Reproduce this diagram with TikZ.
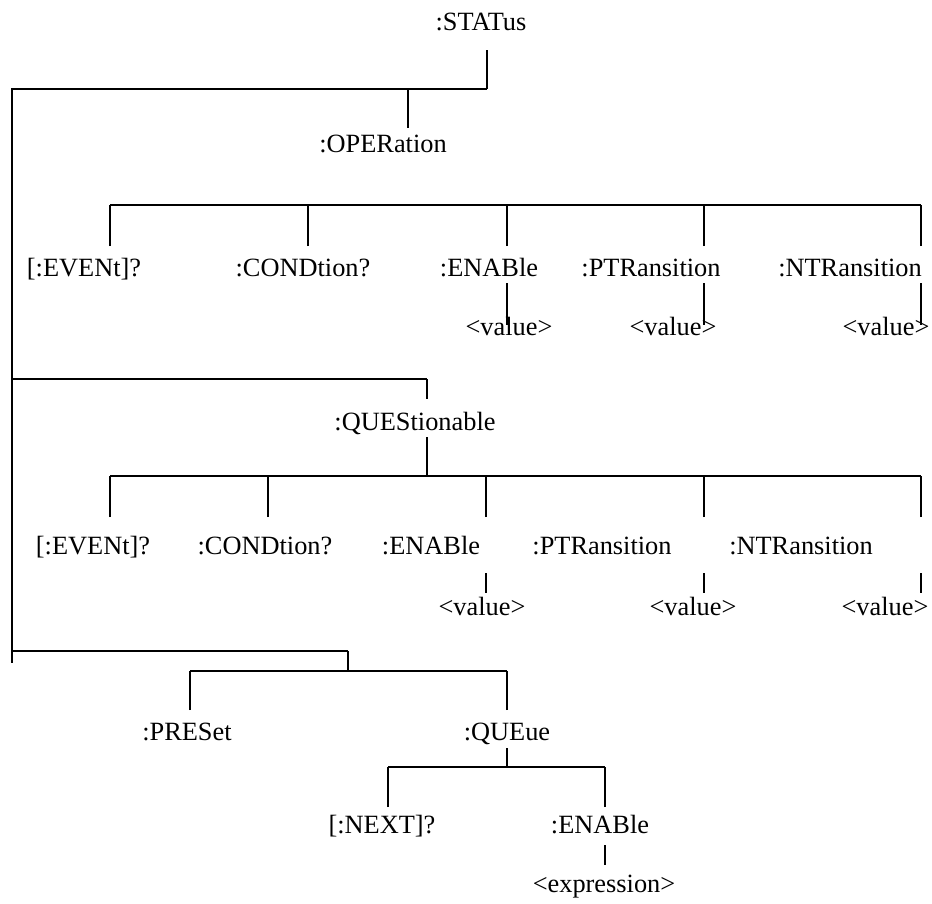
\documentclass[tikz,border=0pt]{standalone}
\usepackage{fontspec}
\setmainfont{Liberation Serif}
\usepackage{tikz}
\usetikzlibrary{positioning,calc}

\begin{document}
\begin{tikzpicture}[
    x=0.02cm, y=-0.02cm,
    cmd/.style={inner sep=0pt, anchor=base, font=\fontsize{15}{18}\selectfont},
    bar/.style={draw=black, line width=1.1pt},
    tick/.style={draw=black, line width=0.75pt}
]
\useasboundingbox (0,0) rectangle (932,903);

% Root and spine
\node[cmd] (status) at (481,30) {:STATus};
\coordinate (st-a) at (487,50);
\coordinate (st-b) at (487,89);
\coordinate (spine-top) at (12,89);
\coordinate (spine-end) at (12,663);
\draw[tick] (st-a) -- (st-b);
\draw[bar] (st-b) -- (spine-top) -- (spine-end);

% OPERation
\coordinate (op-a) at (408,89);
\coordinate (op-b) at (408,128);
\draw[tick] (op-a) -- (op-b);
\node[cmd] (oper) at (383,152) {:OPERation};

% OPERation bar and children
\coordinate (ob-l) at (110,205);
\coordinate (ob-r) at (921,205);
\draw[bar] (ob-l) -- (ob-r);
\node[cmd] (o-ev) at (84,276) {[:EVENt]?};
\node[cmd] (o-cd) at (303,276) {:CONDtion?};
\node[cmd] (o-en) at (489,276) {:ENABle};
\node[cmd] (o-pt) at (651,276) {:PTRansition};
\node[cmd] (o-nt) at (850,276) {:NTRansition};
\foreach \n/\x in {o-ev/110, o-cd/308, o-en/507, o-pt/704, o-nt/921} {
    \coordinate (\n-t) at (\x,246);
    \draw[tick] (\n-t) -- (\n-t |- ob-l);
}

% OPERation values
\node[cmd] (o-en-v) at (509,335) {<value>};
\node[cmd] (o-pt-v) at (673,335) {<value>};
\node[cmd] (o-nt-v) at (886,335) {<value>};
\foreach \n/\x in {o-en/507, o-pt/704, o-nt/921} {
    \coordinate (\n-s) at (\x,283);
    \coordinate (\n-e) at (\x,325);
    \draw[tick] (\n-s) -- (\n-e);
}

% QUEStionable
\coordinate (qu-a) at (12,379);
\coordinate (qu-b) at (427,379);
\coordinate (qu-c) at (427,399);
\draw[bar] (qu-a) -- (qu-b);
\draw[tick] (qu-b) -- (qu-c);
\node[cmd] (ques) at (415,430) {:QUEStionable};
\coordinate (qu-d) at (427,437);
\coordinate (qb-m) at (427,476);
\draw[tick] (qu-d) -- (qb-m);

% QUEStionable bar and children
\coordinate (qb-l) at (110,476);
\coordinate (qb-r) at (921,476);
\draw[bar] (qb-l) -- (qb-r);
\node[cmd] (q-ev) at (93,554) {[:EVENt]?};
\node[cmd] (q-cd) at (265,554) {:CONDtion?};
\node[cmd] (q-en) at (431,554) {:ENABle};
\node[cmd] (q-pt) at (602,554) {:PTRansition};
\node[cmd] (q-nt) at (801,554) {:NTRansition};
\foreach \n/\x in {q-ev/110, q-cd/268, q-en/486, q-pt/704, q-nt/921} {
    \coordinate (\n-t) at (\x,517);
    \draw[tick] (\n-t) -- (\n-t |- qb-l);
}

% QUEStionable values
\node[cmd] (q-en-v) at (482,615) {<value>};
\node[cmd] (q-pt-v) at (693,615) {<value>};
\node[cmd] (q-nt-v) at (885,615) {<value>};
\foreach \n/\x in {q-en/486, q-pt/704, q-nt/921} {
    \coordinate (\n-s) at (\x,573);
    \coordinate (\n-e) at (\x,593);
    \draw[tick] (\n-s) -- (\n-e);
}

% PRESet and QUEue
\coordinate (pr-a) at (12,651);
\coordinate (pr-b) at (348,651);
\coordinate (pr-c) at (348,671);
\draw[bar] (pr-a) -- (pr-b);
\draw[tick] (pr-b) -- (pr-c);
\coordinate (pb-l) at (190,671);
\coordinate (pb-r) at (507,671);
\draw[bar] (pb-l) -- (pb-r);
\node[cmd] (pres) at (187,740) {:PRESet};
\node[cmd] (queue) at (507,740) {:QUEue};
\foreach \n/\x in {pres/190, queue/507} {
    \coordinate (\n-t) at (\x,710);
    \draw[tick] (\n-t) -- (\n-t |- pb-l);
}

% QUEue children
\coordinate (qq-a) at (507,748);
\coordinate (qq-b) at (507,767);
\draw[tick] (qq-a) -- (qq-b);
\coordinate (qq-l) at (388,767);
\coordinate (qq-r) at (605,767);
\draw[bar] (qq-l) -- (qq-r);
\node[cmd] (next) at (382,833) {[:NEXT]?};
\node[cmd] (qenab) at (600,833) {:ENABle};
\foreach \n/\x in {next/388, qenab/605} {
    \coordinate (\n-t) at (\x,807);
    \draw[tick] (\n-t) -- (\n-t |- qq-l);
}
\coordinate (qe-s) at (605,845);
\coordinate (qe-e) at (605,865);
\draw[tick] (qe-s) -- (qe-e);
\node[cmd] (expr) at (604,892) {<expression>};

\end{tikzpicture}
\end{document}
